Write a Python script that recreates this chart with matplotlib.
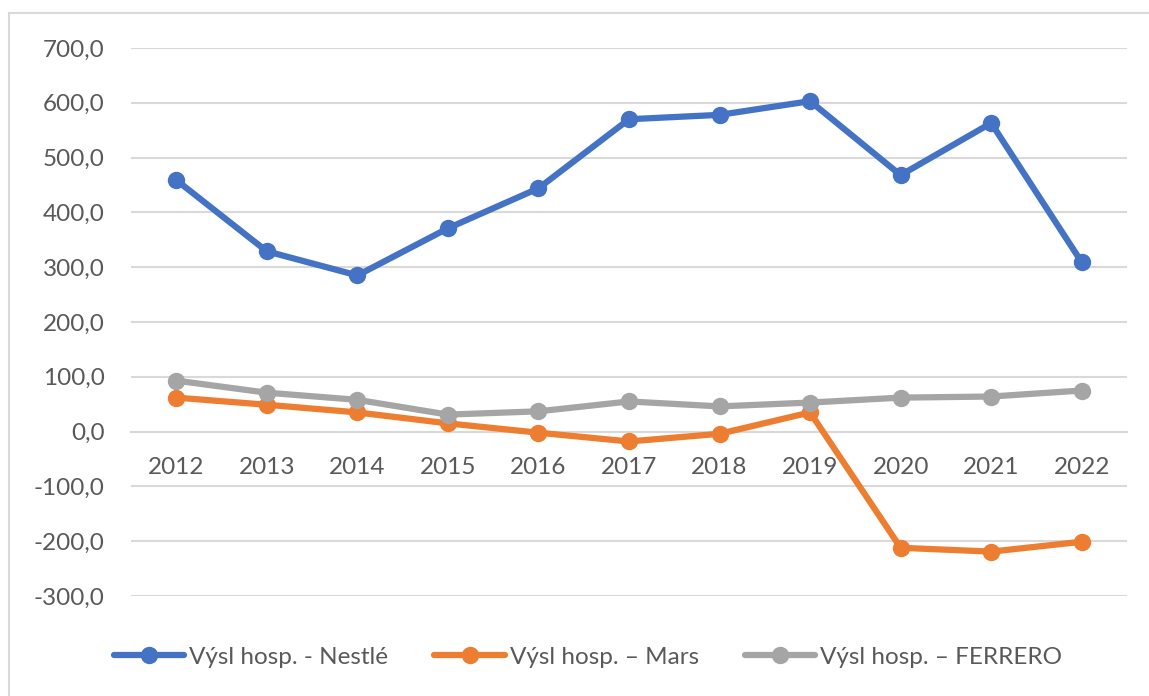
import matplotlib.pyplot as plt
from matplotlib.lines import Line2D
from matplotlib.ticker import FuncFormatter

years = ['2012', '2013', '2014', '2015', '2016', '2017', '2018', '2019', '2020', '2021', '2022']
nestle = [459, 329, 285, 371, 444, 570, 578, 603, 468, 563, 309]
mars = [62, 49, 35, 15, -2, -18, -4, 35, -212, -219, -201]
ferrero = [93, 71, 58, 31, 37, 55, 46, 53, 62, 64, 75]
labels = ['Výsl hosp. - Nestlé', 'Výsl hosp. – Mars', 'Výsl hosp. – FERRERO']
colors = ['#4472C4', '#ED7D31', '#A5A5A5']

plt.rcParams['font.family'] = ['Lato', 'DejaVu Sans']

W, H = 1149, 696
fig = plt.figure(figsize=(W / 100, H / 100), dpi=100)
ax = fig.add_axes([131 / W, 1 - 596 / H, (1127 - 131) / W, (596 - 48) / H])

x = list(range(len(years)))
series = [ferrero, mars, nestle]
order = [2, 1, 0]
handles = {}
for s, i in zip(series, order):
    ln, = ax.plot(x, s, color=colors[i], lw=4.5, marker='o', ms=11.5,
                  solid_capstyle='round', solid_joinstyle='round', label=labels[i], zorder=3 + i)
    handles[i] = ln

ax.set_xlim(-0.5, len(years) - 0.5)
ax.set_ylim(-300, 700)
ax.set_yticks(range(-300, 701, 100))
ax.yaxis.set_major_formatter(FuncFormatter(lambda v, p: ('%.1f' % v).replace('.', ',')))
ax.grid(axis='y', color='#D9D9D9', lw=1.5)
ax.set_axisbelow(True)
for side in ['top', 'right', 'left']:
    ax.spines[side].set_visible(False)
ax.spines['bottom'].set_position(('data', 0))
ax.spines['bottom'].set_color('#D9D9D9')
ax.spines['bottom'].set_linewidth(1.5)
ax.set_xticks(x)
ax.set_xticklabels(years)
ax.tick_params(axis='x', length=0, pad=18, labelsize=17.5, labelcolor='#595959')
ax.tick_params(axis='y', length=0, pad=19, labelsize=17.5, labelcolor='#595959')

fig.legend([handles[0], handles[1], handles[2]], labels, loc='center',
           bbox_to_anchor=(588 / W, 1 - 657 / H), ncol=3, frameon=False, fontsize=17.5,
           handlelength=2.9, handletextpad=0.2, columnspacing=1.9, labelcolor='#595959')

fig.add_artist(Line2D([8.5 / W, 1], [1 - 12.5 / H, 1 - 12.5 / H], color='#D9D9D9', lw=1.5))
fig.add_artist(Line2D([8.5 / W, 8.5 / W], [0, 1 - 12.5 / H], color='#D9D9D9', lw=1.5))

fig.savefig('out.png', dpi=100)
